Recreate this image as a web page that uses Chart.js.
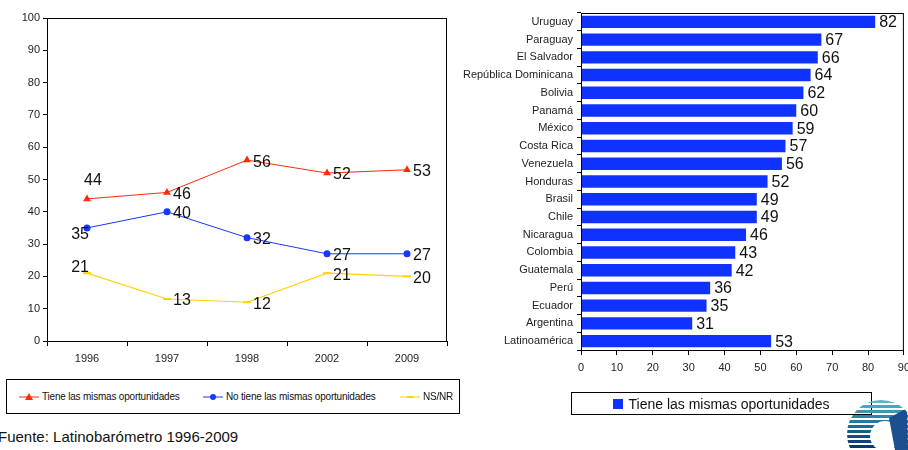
<!DOCTYPE html>
<html>
<head>
<meta charset="utf-8">
<script src="https://cdn.jsdelivr.net/npm/chart.js@4"></script>
<style>
  body { margin: 0; background: #fff; width: 908px; height: 450px; overflow: hidden; position: relative; font-family: "Liberation Sans", Arial, sans-serif; }
  #lineWrap { position: absolute; left: 0; top: 0; width: 460px; height: 370px; }
  #barWrap { position: absolute; left: 455px; top: 0; width: 461px; height: 380px; }
  .legend { position: absolute; border: 1.5px solid #000; box-sizing: border-box; background: #fff; color: #111; }
  #lineLegend { left: 6px; top: 379px; width: 454px; height: 35px; font-size: 10px; letter-spacing: -0.2px; }
  #lineLegend .item { position: absolute; top: 11px; display: flex; align-items: center; white-space: nowrap; }
  #lineLegend svg { margin-right: 3px; }
  #barLegend { left: 571px; top: 392px; width: 301px; height: 23px; font-size: 14px; display: flex; align-items: center; justify-content: center; }
  #barLegend .sq { width: 10px; height: 10px; margin-right: 5px; }
  #source { position: absolute; left: -2px; top: 428px; font-size: 15px; color: #111; white-space: nowrap; }
  #logo { position: absolute; left: 845px; top: 398px; }
</style>
</head>
<body>
<div id="lineWrap"><canvas id="lineChart"></canvas></div>
<div id="barWrap"><canvas id="barChart"></canvas></div>
<div class="legend" id="lineLegend"></div>
<div class="legend" id="barLegend"></div>
<div id="source">Fuente: Latinobarómetro 1996-2009</div>
<svg id="logo" width="63" height="52" viewBox="0 0 63 52">
  <defs><clipPath id="c"><circle cx="36" cy="36" r="34"/></clipPath></defs>
  <g clip-path="url(#c)">
    <rect x="0" y="2" width="70" height="3" fill="#5fb4c8"/>
    <rect x="0" y="7" width="70" height="3" fill="#4aa6bf"/>
    <rect x="0" y="12" width="70" height="3" fill="#3a98b6"/>
    <rect x="0" y="17" width="70" height="3" fill="#2c88ab"/>
    <rect x="0" y="22" width="70" height="3" fill="#21799f"/>
    <rect x="0" y="27" width="70" height="3" fill="#1a6b95"/>
    <rect x="0" y="32" width="70" height="3" fill="#155d8a"/>
    <rect x="0" y="37" width="70" height="3" fill="#114f80"/>
    <rect x="0" y="42" width="70" height="3" fill="#0e4476"/>
    <rect x="0" y="47" width="70" height="3" fill="#0b396b"/>
    <circle cx="40" cy="38" r="15" fill="#fff"/>
    <path d="M44 20 L62 10 L63 52 L50 52 Z" fill="#1b4f8f"/>
  </g>
</svg>
<script>
// left chart data
const years = ['1996', '1997', '1998', '2002', '2009'];
const seriesNames = ['Tiene las mismas oportunidades', 'No tiene las mismas oportunidades', 'NS/NR'];
const tieneValues = [44, 46, 56, 52, 53];
const noTieneValues = [35, 40, 32, 27, 27];
const nsnrValues = [21, 13, 12, 21, 20];
const lineTicks = [0, 10, 20, 30, 40, 50, 60, 70, 80, 90, 100];

// right chart data
const countries = ['Uruguay', 'Paraguay', 'El Salvador', 'República Dominicana', 'Bolivia', 'Panamá', 'México',
  'Costa Rica', 'Venezuela', 'Honduras', 'Brasil', 'Chile', 'Nicaragua', 'Colombia', 'Guatemala', 'Perú',
  'Ecuador', 'Argentina', 'Latinoamérica'];
const countryValues = [82, 67, 66, 64, 62, 60, 59, 57, 56, 52, 49, 49, 46, 43, 42, 36, 35, 31, 53];
const barTicks = [0, 10, 20, 30, 40, 50, 60, 70, 80, 90];

const RED = '#ff2a0a';
const BLUE = '#1438ff';
const YELLOW = '#ffd400';
const BAR = '#0f32ff';
const FONT = '"Liberation Sans", Arial, sans-serif';

Chart.defaults.font.family = FONT;
Chart.defaults.color = '#222';
Chart.defaults.animation = false;

// frame around the plot area
const frame = {
  id: 'frame',
  afterDraw(chart) {
    const a = chart.chartArea, ctx = chart.ctx;
    ctx.save();
    ctx.strokeStyle = '#000';
    ctx.lineWidth = 1;
    ctx.strokeRect(a.left + 0.5, a.top + 0.5, a.right - a.left - 1, a.bottom - a.top);
    ctx.restore();
  }
};

// value labels next to points
const lineLabels = {
  id: 'lineLabels',
  afterDatasetsDraw(chart) {
    const ctx = chart.ctx;
    ctx.save();
    ctx.font = '16px ' + FONT;
    ctx.fillStyle = '#111';
    ctx.textBaseline = 'middle';
    chart.data.datasets.forEach((ds, di) => {
      chart.getDatasetMeta(di).data.forEach((pt, i) => {
        let x = pt.x + 6, y = pt.y + 2, align = 'left';
        if (i === 0 && di === 0) { x = pt.x - 3; y = pt.y - 18; }
        if (i === 0 && di === 1) { x = pt.x + 2; y = pt.y + 7; align = 'right'; }
        if (i === 0 && di === 2) { x = pt.x + 2; y = pt.y - 6; align = 'right'; }
        ctx.textAlign = align;
        ctx.fillText(ds.data[i], x, y);
      });
    });
    ctx.restore();
  }
};

const barLabels = {
  id: 'barLabels',
  afterDatasetsDraw(chart) {
    const ctx = chart.ctx;
    ctx.save();
    ctx.font = '16px ' + FONT;
    ctx.fillStyle = '#111';
    ctx.textBaseline = 'middle';
    ctx.textAlign = 'left';
    const ds = chart.data.datasets[0];
    chart.getDatasetMeta(0).data.forEach((bar, i) => {
      ctx.fillText(ds.data[i], bar.x + 4, bar.y + 1);
    });
    ctx.restore();
  }
};

new Chart(document.getElementById('lineChart'), {
  type: 'line',
  data: {
    labels: years,
    datasets: [
      { label: seriesNames[0], data: tieneValues, borderColor: RED, backgroundColor: RED, borderWidth: 1,
        pointStyle: 'triangle', pointRadius: 4.5, pointBorderWidth: 0 },
      { label: seriesNames[1], data: noTieneValues, borderColor: BLUE, backgroundColor: BLUE, borderWidth: 1,
        pointStyle: 'circle', pointRadius: 3.5, pointBorderWidth: 0 },
      { label: seriesNames[2], data: nsnrValues, borderColor: YELLOW, backgroundColor: YELLOW, borderWidth: 1.2,
        pointStyle: 'line', pointRadius: 4, pointBorderWidth: 2 }
    ]
  },
  options: {
    responsive: true,
    maintainAspectRatio: false,
    layout: { padding: { top: 18, right: 13, left: 0, bottom: 0 } },
    plugins: { legend: { display: false }, tooltip: { enabled: false } },
    scales: {
      x: {
        offset: true,
        grid: { offset: true, drawOnChartArea: false, color: '#000', tickLength: 5 },
        border: { color: '#000' },
        ticks: { font: { size: 11 }, padding: 6 },
        afterFit(s) { s.height = 29; }
      },
      y: {
        min: 0, max: 100,
        afterBuildTicks(s) { s.ticks = lineTicks.map(v => ({ value: v })); },
        grid: { drawOnChartArea: false, color: '#000', tickLength: 4 },
        border: { color: '#000' },
        ticks: { font: { size: 11 }, padding: 3 },
        afterFit(s) { s.width = 47; }
      }
    }
  },
  plugins: [frame, lineLabels]
});

new Chart(document.getElementById('barChart'), {
  type: 'bar',
  data: {
    labels: countries,
    datasets: [{ label: 'Tiene las mismas oportunidades', data: countryValues, backgroundColor: BAR,
      categoryPercentage: 0.7, barPercentage: 1.0 }]
  },
  options: {
    indexAxis: 'y',
    responsive: true,
    maintainAspectRatio: false,
    layout: { padding: { top: 13, right: 0, left: 0, bottom: 0 } },
    plugins: { legend: { display: false }, tooltip: { enabled: false } },
    scales: {
      x: {
        min: 0, max: 90,
        afterBuildTicks(s) { s.ticks = barTicks.map(v => ({ value: v })); },
        grid: { drawOnChartArea: false, color: '#000', tickLength: 5 },
        border: { color: '#000' },
        ticks: { font: { size: 11 }, padding: 6 },
        afterFit(s) { s.height = 30; }
      },
      y: {
        grid: { offset: true, drawOnChartArea: false, color: '#000', tickLength: 4 },
        border: { color: '#000' },
        ticks: { font: { size: 11 }, padding: 4, autoSkip: false },
        afterFit(s) { s.width = 126; }
      }
    }
  },
  plugins: [frame, barLabels]
});

// legends built from the series names
function lineIcon(color, marker) {
  let m = '';
  if (marker === 'triangle') m = '<polygon points="10,1 14,8 6,8" fill="' + color + '"/>';
  if (marker === 'circle') m = '<circle cx="10" cy="5" r="3" fill="' + color + '"/>';
  if (marker === 'line') m = '<rect x="7" y="4" width="6" height="2" fill="' + color + '"/>';
  return '<svg width="20" height="10"><line x1="0" y1="5" x2="20" y2="5" stroke="' + color + '" stroke-width="1"/>' + m + '</svg>';
}
const icons = [lineIcon(RED, 'triangle'), lineIcon(BLUE, 'circle'), lineIcon(YELLOW, 'line')];
const itemLeft = [12, 196, 393];
document.getElementById('lineLegend').innerHTML = seriesNames.map((n, i) =>
  '<div class="item" style="left:' + itemLeft[i] + 'px">' + icons[i] + '<span>' + n + '</span></div>').join('');
document.getElementById('barLegend').innerHTML =
  '<div class="sq" style="background:' + BAR + '"></div><span>Tiene las mismas oportunidades</span>';
</script>
</body>
</html>
